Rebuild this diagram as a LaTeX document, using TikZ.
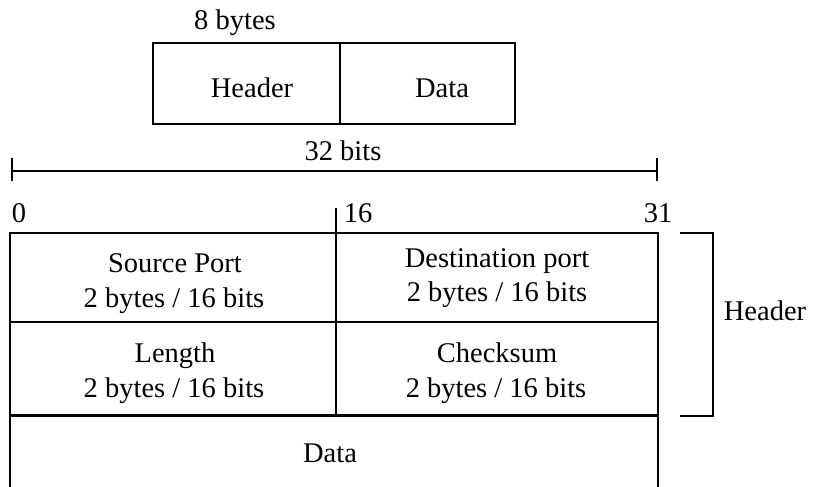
\documentclass[tikz,border=0pt]{standalone}
\usepackage{fontspec}
\setmainfont{Liberation Serif}
\begin{document}
\begin{tikzpicture}[x=1pt,y=-1pt,line width=1.3pt,
  lbl/.style={anchor=base,inner sep=0pt,font=\fontsize{28.5}{34}\selectfont},
  cellbox/.style={draw,anchor=north west,inner sep=0pt,outer sep=0pt}]
\useasboundingbox (0,0) rectangle (814,487);
% top box
\node[cellbox,minimum width=187pt,minimum height=81pt] (thdr) at (153,43) {};
\node[cellbox,minimum width=175pt,minimum height=81pt] (tdata) at (340,43) {};
\node[lbl] (t8) at (235,30) {8 bytes};
\node[lbl] (thdrt) at (252,97) {Header};
\node[lbl] (tdatat) at (442,97) {Data};
% 32 bits scale
\coordinate (sl) at (12,171);
\coordinate (sr) at (657,171);
\draw (sl) -- (sr);
\draw ([yshift=-10pt]sl) -- ([yshift=13pt]sl);
\draw ([yshift=-10pt]sr) -- ([yshift=13pt]sr);
\node[lbl] (b32) at (343,160) {32 bits};
\node[lbl] (b0) at (19,222) {0};
\node[lbl] (b16) at (358,222) {16};
\node[lbl] (b31) at (658,222) {31};
% main table
\node[cellbox,minimum width=326pt,minimum height=89pt] (sp) at (10,233) {};
\node[cellbox,minimum width=322pt,minimum height=89pt] (dp) at (336,233) {};
\node[cellbox,minimum width=326pt,minimum height=93pt] (len) at (10,322) {};
\node[cellbox,minimum width=322pt,minimum height=93pt] (cs) at (336,322) {};
\coordinate (tick) at (336,208);
\draw (tick) -- (sp.north east);
\draw[line width=3pt] (len.south west) -- (cs.south east);
\coordinate (dbl) at (10,487);
\coordinate (dbr) at (658,487);
\draw (len.south west) -- (dbl);
\draw (cs.south east) -- (dbr);
\node[lbl] (spt1) at (175,272) {Source Port};
\node[lbl] (spt2) at (174,307) {2 bytes / 16 bits};
\node[lbl] (dpt1) at (497,267) {Destination port};
\node[lbl] (dpt2) at (497,301) {2 bytes / 16 bits};
\node[lbl] (lnt1) at (175,362) {Length};
\node[lbl] (lnt2) at (174,397) {2 bytes / 16 bits};
\node[lbl] (cst1) at (497,362) {Checksum};
\node[lbl] (cst2) at (496,397) {2 bytes / 16 bits};
\node[lbl] (datat) at (330,462) {Data};
% header bracket
\coordinate (brt) at (680,233);
\coordinate (brb) at (680,416);
\draw (brt) -- ++(33,0) |- (brb);
\node[lbl] (hdrlbl) at (765,320) {Header};
\end{tikzpicture}
\end{document}
